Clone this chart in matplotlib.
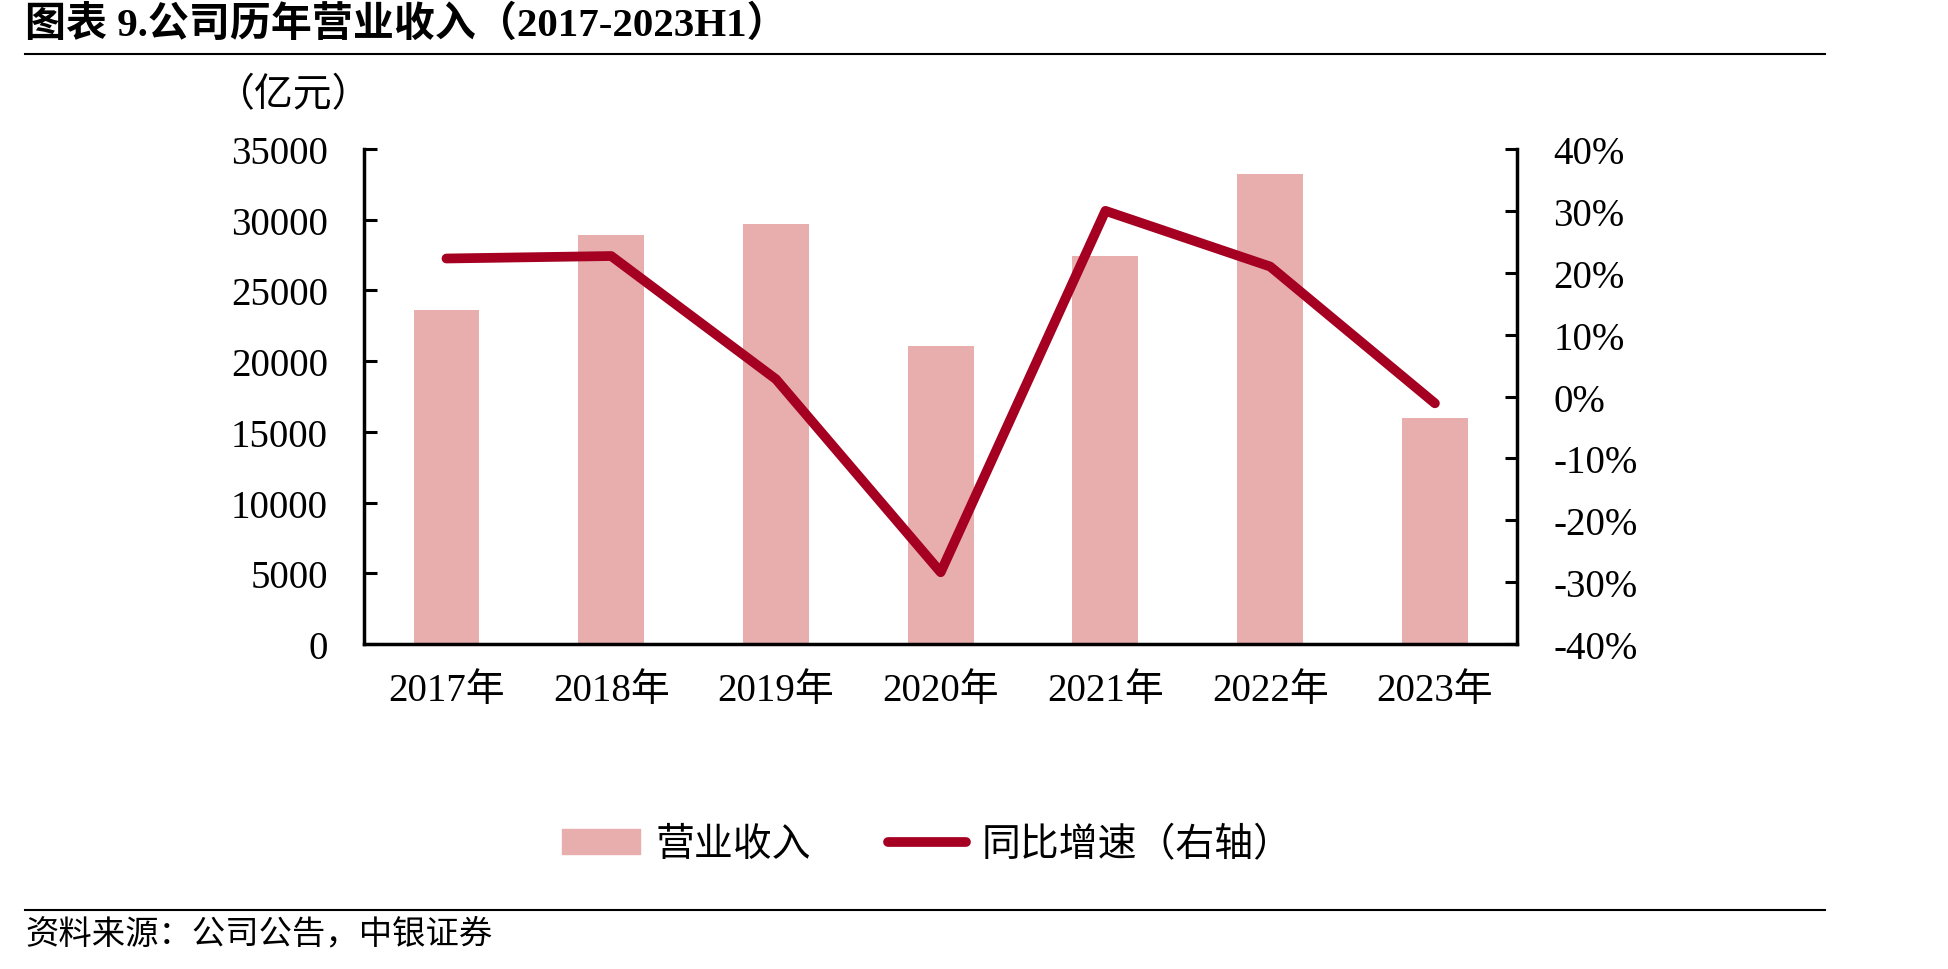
import matplotlib
matplotlib.use('Agg')
import matplotlib.pyplot as plt
import numpy as np
from matplotlib.lines import Line2D
from matplotlib.patches import Patch
from matplotlib.ticker import FuncFormatter, MultipleLocator

# 数字用 Times 风格，汉字回退到 Noto CJK
plt.rcParams['font.family'] = ['Liberation Serif', 'Noto Sans CJK SC']

years = ['2017年', '2018年', '2019年', '2020年', '2021年', '2022年', '2023年']
revenue = [23600, 28900, 29700, 21100, 27400, 33200, 16000]   # 亿元
growth = [22.3, 22.7, 2.8, -28.4, 30.0, 21.0, -1.1]             # %

bar_color = '#E8ADAD'
line_color = '#A50021'

fig = plt.figure(figsize=(19.48, 9.70), dpi=100)
ax = fig.add_axes([0.1869, 0.335, 0.592, 0.5104])
x = np.arange(len(years))

ax.bar(x, revenue, width=0.4, color=bar_color, zorder=1)
ax.set_xlim(-0.5, len(years) - 0.5)
ax.set_ylim(0, 35000)
ax.yaxis.set_major_locator(MultipleLocator(5000))
ax.set_xticks(x)
ax.set_xticklabels(years)
ax.tick_params(axis='x', length=0, pad=20, labelsize=28)
ax.tick_params(axis='y', direction='in', length=9, width=2.2, pad=26, labelsize=28)
for s in ['top', 'right']:
    ax.spines[s].set_visible(False)
for s in ['left', 'bottom']:
    ax.spines[s].set_linewidth(2.5)

ax2 = ax.twinx()
ax2.plot(x, growth, color=line_color, lw=7, solid_capstyle='round')
ax2.set_ylim(-40, 40)
ax2.yaxis.set_major_locator(MultipleLocator(10))
ax2.yaxis.set_major_formatter(FuncFormatter(lambda v, p: '%d%%' % v))
ax2.tick_params(axis='y', direction='in', length=9, width=2.2, pad=26, labelsize=28)
for s in ['top', 'left', 'bottom']:
    ax2.spines[s].set_visible(False)
ax2.spines['right'].set_linewidth(2.5)

# 标题、单位、来源
fig.text(0.013, 0.974, '图表 9.公司历年营业收入（2017-2023H1）', fontsize=29.5,
         fontweight='bold', ha='left', va='center')
fig.text(0.111, 0.90, '（亿元）', fontsize=28, ha='left', va='center')
fig.text(0.013, 0.037, '资料来源：公司公告，中银证券', fontsize=24,
         ha='left', va='center', style='italic')
fig.add_artist(Line2D([0.013, 0.937], [0.9436, 0.9436], color='black', lw=1.5))
fig.add_artist(Line2D([0.013, 0.937], [0.0612, 0.0612], color='black', lw=1.5))

handles = [Patch(color=bar_color, label='营业收入'),
           Line2D([], [], color=line_color, lw=7, solid_capstyle='round',
                  label='同比增速（右轴）')]
fig.legend(handles=handles, loc='center', bbox_to_anchor=(0.476, 0.127), ncol=2,
           frameon=False, fontsize=28, handlelength=2.0, handleheight=0.6,
           columnspacing=2.0, handletextpad=0.4)

fig.savefig('out.png', dpi=100)
